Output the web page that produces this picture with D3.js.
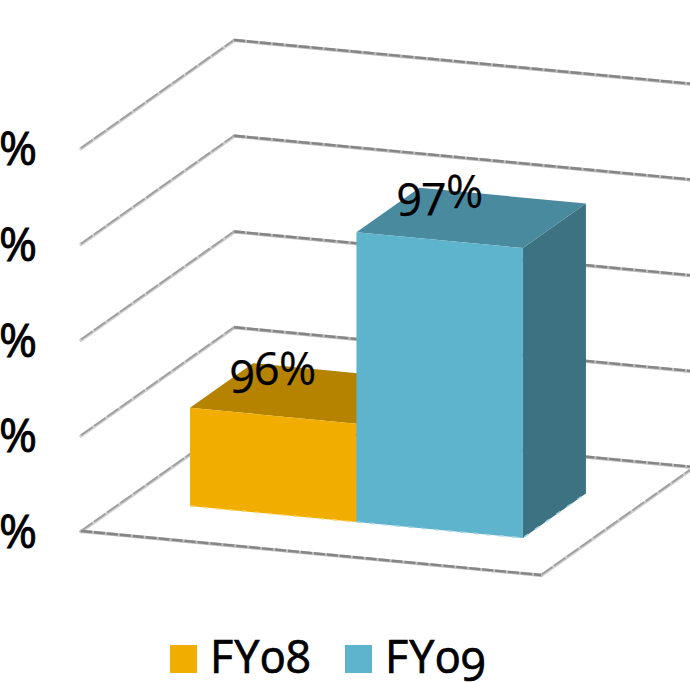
<!DOCTYPE html>
<html>
<head>
<meta charset="utf-8">
<script src="https://cdn.jsdelivr.net/npm/d3@7"></script>
<style>
  html, body { margin: 0; padding: 0; background: #fff; }
  svg { display: block; }
  text { font-family: "Open Sans", sans-serif; font-feature-settings: "onum" 1; fill: #000; }
</style>
</head>
<body>
<svg id="chart" width="690" height="682"></svg>
<script>
const categories = ["FY08", "FY09"];
const seriesValues = [96, 97];
const tickValues = [95.5, 96, 96.5, 97, 97.5];
const seriesFront = ["#F2AE00", "#5FB4CD"];
const seriesTop = ["#B58300", "#4A8A9F"];
const seriesSide = ["#8F6800", "#3D7282"];
const seriesEdge = ["#F9D670", "#A8D6E4"];

const svg = d3.select("#chart");

// Oblique projection of the chart box: along the category axis, into the depth, and up the value axis.
const origin = { x: 81, y: 531 };
const alongX = d3.scaleLinear([0, 1], [0, 460]);
const alongY = d3.scaleLinear([0, 1], [0, 44]);
const depthX = d3.scaleLinear([0, 1], [0, 153]);
const depthY = d3.scaleLinear([0, 1], [0, -108]);
const rise = d3.scaleLinear([95.5, 97.5], [0, -383]);

const band = d3.scaleBand(categories, [0, 1.006]).paddingInner(0).paddingOuter(0.39);
const barDepth = [0.288, 0.70];
const capLift = 2.6;

const project = (u, d, v) => [
  origin.x + alongX(u) + depthX(d),
  origin.y + alongY(u) + depthY(d) + rise(v)
];
const outline = d3.line();
const lifted = ([x, y]) => [x, y - capLift];

// Side walls and floor edges are a lighter grey than the back wall and the front edge.
const base = tickValues[0];
const sideLines = tickValues.slice(1).map(v => [project(0, 0, v), project(0, 1, v)])
  .concat([[project(0, 0, base), project(0, 1, base)], [project(1, 0, base), project(1, 1, base)]]);
const backLines = tickValues.map(v => [project(0, 1, v), project(1.02, 1, v)])
  .concat([[project(0, 0, base), project(1, 0, base)]]);

const grid = svg.append("g").attr("fill", "none").attr("stroke-linecap", "round");
const gridLayers = [
  [sideLines, "#d0d0d0", 3.4, 0.7, null],
  [sideLines, "#a0a0a0", 1.9, 0, "14,2"],
  [backLines, "#bdbdbd", 3.4, 0.3, null],
  [backLines, "#858585", 2.4, 0, "11,2"]
];
gridLayers.forEach(([lines, color, width, dy, dash]) => {
  grid.append("g").attr("stroke", color).attr("stroke-width", width)
    .attr("stroke-dasharray", dash).attr("stroke-linecap", dash ? "butt" : "round")
    .attr("transform", `translate(0,${dy})`)
    .selectAll("path").data(lines).join("path").attr("d", outline);
});

// Value axis labels sit left of the floor corner and run off the page edge.
const tickLabels = svg.append("g").attr("font-size", 46)
  .attr("stroke", "#000").attr("stroke-width", 0.9);
tickLabels.selectAll("text").data(tickValues).join("text")
  .attr("x", 37)
  .attr("y", v => origin.y + rise(v) + 17)
  .attr("text-anchor", "end")
  .text(v => d3.format(".1f")(v) + "%");

// Bars, drawn left to right so the second bar overlaps the first bar's side.
const bars = svg.append("g").selectAll("g").data(categories).join("g");
bars.each(function (cat, i) {
  const g = d3.select(this);
  const u0 = band(cat), u1 = u0 + band.bandwidth();
  const [d0, d1] = barDepth;
  const v = seriesValues[i];
  g.append("path").attr("fill", seriesSide[i]).attr("d", outline([
    project(u1, d0, base), project(u1, d1, base), lifted(project(u1, d1, v)), lifted(project(u1, d0, v))
  ]) + "Z");
  g.append("path").attr("fill", seriesTop[i]).attr("d", outline([
    lifted(project(u0, d0, v)), lifted(project(u0, d1, v)), lifted(project(u1, d1, v)), lifted(project(u1, d0, v))
  ]) + "Z");
  g.append("path").attr("fill", seriesFront[i]).attr("d", outline([
    project(u0, d0, base), project(u1, d0, base), lifted(project(u1, d0, v)), lifted(project(u0, d0, v))
  ]) + "Z");
  // Light stitched edge where the bar meets the floor.
  g.append("path").attr("fill", "none").attr("stroke", seriesEdge[i])
    .attr("stroke-width", 1.5).attr("stroke-dasharray", "5,8")
    .attr("d", outline([project(u0, d0, base), project(u1, d0, base), project(u1, d1, base)]));
});

// Value labels above each bar.
const labelPos = [[273, 385], [440, 208]];
svg.append("g").attr("font-size", 45).attr("stroke", "#000").attr("stroke-width", 0.25)
  .selectAll("text").data(seriesValues).join("text")
  .attr("x", (d, i) => labelPos[i][0])
  .attr("y", (d, i) => labelPos[i][1])
  .attr("text-anchor", "middle")
  .text(d => d + "%");

// Legend along the bottom.
const legendX = [170, 345];
const legend = svg.append("g").selectAll("g").data(categories).join("g")
  .attr("transform", (d, i) => `translate(${legendX[i]},645)`);
legend.append("rect").attr("width", 27).attr("height", 28)
  .attr("fill", (d, i) => seriesFront[i]);
legend.append("text").attr("x", 40).attr("y", 28).attr("font-size", 45)
  .attr("letter-spacing", 1).attr("stroke", "#000").attr("stroke-width", 0.7)
  .text(d => d);
</script>
</body>
</html>
